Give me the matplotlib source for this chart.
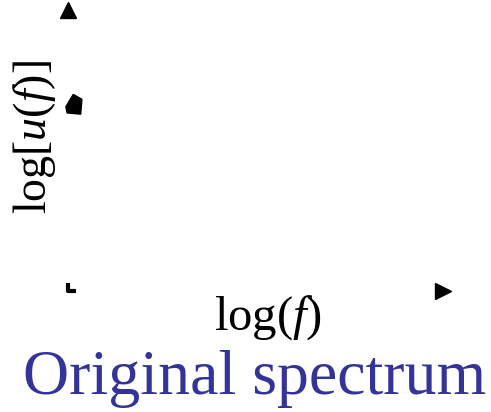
import matplotlib
matplotlib.use("Agg")
import matplotlib.pyplot as plt

plt.rcParams["mathtext.fontset"] = "custom"
plt.rcParams["mathtext.rm"] = "Liberation Serif"
plt.rcParams["mathtext.it"] = "Liberation Serif:italic"
plt.rcParams["font.family"] = ["Liberation Serif", "DejaVu Serif"]

# Axis geometry in data units: origin and arrow tips of the sketch axes
x_axis_end = [1.0]
y_axis_end = [1.0]
origin = [0.0, 0.0]
marker_point = [0.016, 0.661]

title_text = "Original spectrum"
xlabel_text = r"$\mathrm{log}(f)$"
ylabel_text = r"$\mathrm{log}[u(f)]$"

W, H = 491, 412
fig = plt.figure(figsize=(W / 100, H / 100), dpi=100)
# axes: origin at (68, 290.5) px, top tip at y=10, right tip at x=443
x0, y0, x1, y1 = 68, 290.5, 443, 10
ax = fig.add_axes([x0 / W, 1 - y0 / H, (x1 - x0) / W, (y0 - y1) / H])
ax.set_xlim(0, 1)
ax.set_ylim(0, 1)
ax.axis("off")

# arrow heads at the axis ends
ax.plot([0], y_axis_end, marker="^", ms=12, color="black", clip_on=False, ls="none")
ax.plot(x_axis_end, [0], marker=">", ms=12, color="black", clip_on=False, ls="none")
# small corner where the axes meet
ax.plot([origin[0], origin[0], origin[0] + 0.02], [origin[1] + 0.025, origin[1], origin[1]],
        color="black", lw=3, clip_on=False, solid_capstyle="butt")
# blob-shaped point on the vertical axis
blob = [(-1, 9), (6, 5), (5, -7), (-6, -6), (-7, -1), (-1, 9)]
ax.plot([marker_point[0]], [marker_point[1]], marker=blob, ms=16,
        color="black", clip_on=False, ls="none")

fig.text(35 / W, 1 - 137 / H, ylabel_text, rotation=90, ha="center", va="center",
         fontsize=33)
fig.text(268 / W, 1 - 318 / H, xlabel_text, ha="center", va="center", fontsize=35)
fig.text(255 / W, 1 - 379 / H, title_text, ha="center", va="center", fontsize=46,
         color="#333399")

fig.savefig("out.png", dpi=100)
